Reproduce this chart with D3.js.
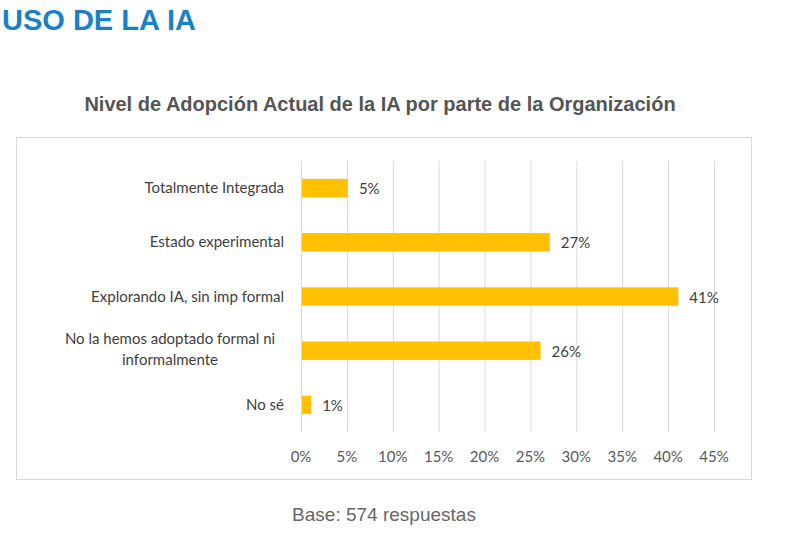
<!DOCTYPE html><html><head><meta charset="utf-8">
<script src="https://cdn.jsdelivr.net/npm/d3@7"></script>
<style>body{margin:0;background:#fff}</style></head><body>
<svg id="c" width="808" height="542"></svg>
<script>
const categories=[["Totalmente Integrada"],["Estado experimental"],["Explorando IA, sin imp formal"],["No la hemos adoptado formal ni","informalmente"],["No sé"]];
const values=[5,27,41,26,1];
const ticks=[0,5,10,15,20,25,30,35,40,45];
const svg=d3.select("#c");
const narrow="'Liberation Sans Narrow','Arial Narrow',sans-serif";
const body="Lato,'Open Sans',sans-serif";
svg.append("text").attr("x",2).attr("y",30).attr("font-family",narrow).attr("font-weight","bold").attr("font-size",29).attr("fill","#1a82c4").text("USO DE LA IA");
svg.append("text").attr("x",380).attr("y",111).attr("text-anchor","middle").attr("font-family",narrow).attr("font-weight","bold").attr("font-size",20).attr("fill","#555").text("Nivel de Adopción Actual de la IA por parte de la Organización");
svg.append("rect").attr("x",16.5).attr("y",137.5).attr("width",735).attr("height",342).attr("fill","none").attr("stroke","#d9d9d9");
const x=d3.scaleLinear().domain([0,45]).range([301,714]);
const y=d3.scaleBand().domain(d3.range(categories.length)).range([161,432]).paddingInner(0.66).paddingOuter(0.33);
svg.selectAll(".g").data(ticks).join("line").attr("x1",d=>x(d)+.5).attr("x2",d=>x(d)+.5).attr("y1",161).attr("y2",432).attr("stroke","#d9d9d9");
svg.selectAll(".t").data(ticks).join("text").attr("x",d=>x(d)).attr("y",462).attr("text-anchor","middle").attr("font-family",body).attr("font-size",15).attr("fill","#595959").text(d=>d+"%");
svg.selectAll(".b").data(values).join("rect").attr("x",x(0)+1).attr("y",(d,i)=>y(i)).attr("width",d=>x(d)-x(0)).attr("height",y.bandwidth()).attr("fill","#ffc000");
svg.selectAll(".v").data(values).join("text").attr("x",d=>x(d)+12).attr("y",(d,i)=>y(i)+y.bandwidth()/2+6).attr("font-family",body).attr("font-size",15).attr("fill","#404040").text(d=>d+"%");
categories.forEach((c,i)=>{const cy=y(i)+y.bandwidth()/2;const n=c.length;
 c.forEach((l,j)=>svg.append("text").attr("x",c.length>1?170:284).attr("y",cy+5+(j-(n-1)/2)*21-(n>1?1:0)).attr("text-anchor",n>1?"middle":"end").attr("font-family",body).attr("font-size",15).attr("fill","#404040").text(l));});
svg.append("text").attr("x",384).attr("y",521).attr("text-anchor","middle").attr("font-family",narrow).attr("font-size",19).attr("fill","#666").text("Base: 574 respuestas");
</script></body></html>
